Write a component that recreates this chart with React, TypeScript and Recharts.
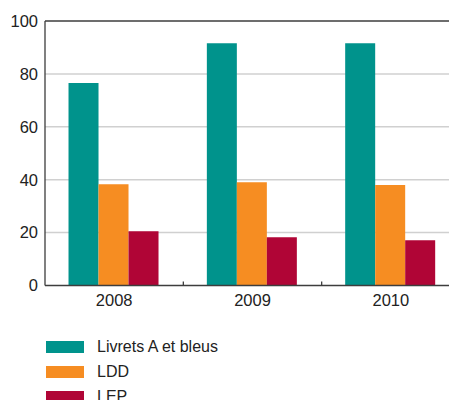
import React from "react";
import {
  Bar,
  BarChart,
  CartesianGrid,
  Legend,
  ReferenceLine,
  XAxis,
  YAxis,
} from "recharts";

const years = ["2008", "2009", "2010"];
const livrets = [76.6, 91.6, 91.6];
const ldd = [38.3, 39.0, 38.0];
const lep = [20.5, 18.2, 17.1];
const yTicks = [0, 20, 40, 60, 80, 100];
const seriesOrder = ["Livrets A et bleus", "LDD", "LEP"];

const data = years.map((year, i) => ({
  year,
  livrets: livrets[i],
  ldd: ldd[i],
  lep: lep[i],
}));

const FONT = "'Liberation Sans', Arial, sans-serif";
const AXIS = "#3d3d3d";
const TEXT = "#222222";
const X_TICK_SIZE = 6;
const X_TICK_MARGIN = 3;

function YearTick(props: any) {
  const { x, y, payload } = props;
  const axisY = y - X_TICK_SIZE - X_TICK_MARGIN;
  const edge = x + (payload.offset || 0);
  return (
    <g>
      <line x1={edge} x2={edge} y1={axisY} y2={axisY - 4} stroke={AXIS} strokeWidth={1.3} />
      <text
        x={x}
        y={y}
        dy="0.71em"
        textAnchor="middle"
        fill={TEXT}
        fontSize={16.5}
        fontFamily={FONT}
      >
        {payload.value}
      </text>
    </g>
  );
}

function LegendList(props: any) {
  const items = [...(props.payload || [])].sort(
    (a: any, b: any) => seriesOrder.indexOf(a.value) - seriesOrder.indexOf(b.value)
  );
  return (
    <div style={{ fontFamily: FONT, fontSize: 16, color: TEXT }}>
      {items.map((entry: any) => (
        <div
          key={entry.value}
          style={{ display: "flex", alignItems: "center", height: 25 }}
        >
          <span
            style={{
              display: "inline-block",
              width: 38,
              height: 12,
              background: entry.color,
              marginRight: 13,
            }}
          />
          <span>{entry.value}</span>
        </div>
      ))}
    </div>
  );
}

export default function App() {
  return (
    <div
      style={{
        position: "absolute",
        left: 0,
        top: 0,
        width: 449,
        height: 400,
        overflow: "hidden",
        background: "#fff",
      }}
    >
      <BarChart
        width={470}
        height={400}
        data={data}
        barCategoryGap="17%"
        barGap={0}
        margin={{ top: 21, right: 10, left: 0, bottom: 0 }}
      >
        <CartesianGrid
          vertical={false}
          stroke="#d0d0d0"
          strokeWidth={1.5}
          horizontalValues={[20, 40, 60, 80]}
        />
        <XAxis
          dataKey="year"
          height={39.5}
          axisLine={{ stroke: AXIS, strokeWidth: 1.3 }}
          tickLine={false}
          tickSize={X_TICK_SIZE}
          tickMargin={X_TICK_MARGIN}
          tick={<YearTick />}
          interval={0}
        />
        <YAxis
          width={45}
          domain={[0, 100]}
          ticks={yTicks}
          axisLine={{ stroke: AXIS, strokeWidth: 1.3 }}
          tickLine={false}
          tickMargin={1}
          tick={{ fill: TEXT, fontSize: 16.5, fontFamily: FONT }}
        />
        <ReferenceLine y={100} stroke={AXIS} strokeWidth={1.5} />
        <Legend
          verticalAlign="bottom"
          align="left"
          layout="horizontal"
          content={<LegendList />}
          wrapperStyle={{ left: 46, top: 334, height: 75, width: 300 }}
        />
        <Bar
          dataKey="livrets"
          name="Livrets A et bleus"
          fill="#00938c"
          isAnimationActive={false}
        />
        <Bar dataKey="ldd" name="LDD" fill="#f68d22" isAnimationActive={false} />
        <Bar dataKey="lep" name="LEP" fill="#b00536" isAnimationActive={false} />
      </BarChart>
    </div>
  );
}
